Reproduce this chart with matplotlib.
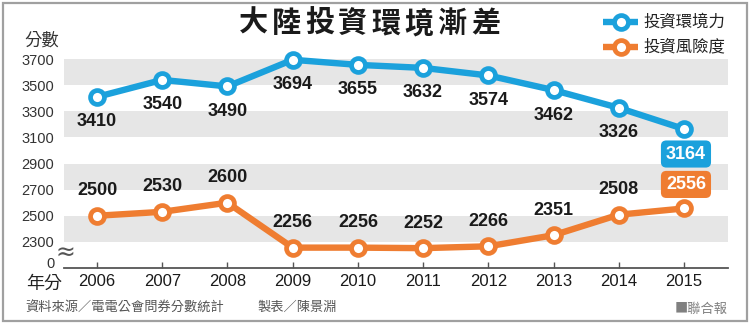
import matplotlib
matplotlib.use("Agg")
import matplotlib.pyplot as plt
from matplotlib.patches import Rectangle

plt.rcParams['font.family'] = ['Liberation Sans', 'Noto Sans CJK TC', 'DejaVu Sans']

# Data
years = [2006, 2007, 2008, 2009, 2010, 2011, 2012, 2013, 2014, 2015]
environment = [3410, 3540, 3490, 3694, 3655, 3632, 3574, 3462, 3326, 3164]
risk = [2500, 2530, 2600, 2256, 2256, 2252, 2266, 2351, 2508, 2556]
ytick_values = [2140, 2300, 2500, 2700, 2900, 3100, 3300, 3500, 3700]
ytick_labels = ['0', '2300', '2500', '2700', '2900', '3100', '3300', '3500', '3700']
bands = [(2300, 2500), (2700, 2900), (3100, 3300), (3500, 3700)]
series_names = ['投資環境力', '投資風險度']
title = '大陸投資環境漸差'

BLUE = '#1ba1dc'
ORANGE = '#ef7d31'
BAND = '#e6e6e6'

W, H = 750, 326
fig = plt.figure(figsize=(W / 100, H / 100), dpi=100)

# plot area in pixel units (left, top, right, bottom)
L, T, R, B = 64, 59, 728, 268
ax = fig.add_axes([L / W, (H - B) / H, (R - L) / W, (B - T) / H])
ax.patch.set_alpha(0)
ax.set_xlim(2005.494, 2015.675)
ax.set_ylim(2100, 3700)

for lo, hi in bands:
    ax.axhspan(lo, hi, color=BAND, lw=0, zorder=0)

line_kw = dict(lw=4.6, marker='o', ms=10, mfc='white', mew=3.4,
               clip_on=False, zorder=3, solid_capstyle='round')
ax.plot(years, environment, color=BLUE, mec=BLUE, **line_kw)
ax.plot(years, risk, color=ORANGE, mec=ORANGE, **line_kw)

lab_kw = dict(textcoords='offset pixels', ha='center', va='center',
              fontsize=13, fontweight='bold', color='#1a1a1a', zorder=4)
box_kw = dict(textcoords='offset pixels', ha='center', va='center',
              fontsize=13, fontweight='bold', color='white', zorder=4)
for i, (x, v) in enumerate(zip(years, environment)):
    if i == len(years) - 1:
        ax.annotate(f'{v}', (x, v), xytext=(2, -25), **box_kw,
                    bbox=dict(boxstyle='round,pad=0.28,rounding_size=0.3',
                              fc=BLUE, ec='none'))
    else:
        ax.annotate(f'{v}', (x, v), xytext=(0, -25), **lab_kw)
for i, (x, v) in enumerate(zip(years, risk)):
    if i == len(years) - 1:
        ax.annotate(f'{v}', (x, v), xytext=(2, 24), **box_kw,
                    bbox=dict(boxstyle='round,pad=0.28,rounding_size=0.3',
                              fc=ORANGE, ec='none'))
    else:
        ax.annotate(f'{v}', (x, v), xytext=(0, 25), **lab_kw)

ax.set_xticks(years)
ax.set_xticklabels([str(y) for y in years], fontsize=12, color='#1a1a1a')
ax.set_yticks(ytick_values)
ax.set_yticklabels(ytick_labels, fontsize=10.5, color='#333')
ax.tick_params(axis='x', direction='in', length=4, width=1, color='#555', pad=4)
ax.tick_params(axis='y', length=0, pad=7)
for s in ['top', 'right', 'left']:
    ax.spines[s].set_visible(False)
ax.spines['bottom'].set_color('#555')
ax.spines['bottom'].set_linewidth(1.3)

# overlay in pixel coordinates for titles, legend and notes
ov = fig.add_axes([0, 0, 1, 1])
ov.set_xlim(0, W)
ov.set_ylim(H, 0)
ov.axis('off')

ov.add_patch(Rectangle((3, 3), 744, 318, fill=False, ec='#a0a0a0', lw=1.6))

for i, ch in enumerate(title):
    ov.text(253 + i * 33.2, 24, ch, ha='center', va='center', fontsize=21,
            fontweight='bold', color='#1a1a1a')

for j, (name, c) in enumerate(zip(series_names, [BLUE, ORANGE])):
    y = 22 + j * 25
    ov.plot([603, 638], [y, y], color=c, lw=4.6, solid_capstyle='butt')
    ov.plot([621], [y], marker='o', ms=10, mfc='white', mec=c, mew=3.4)
    ov.text(643, y, name, ha='left', va='center', fontsize=11.8, color='#222')

ov.text(42, 40, '分數', ha='center', va='center', fontsize=12.5, color='#333')
ov.text(44, 284, '年分', ha='center', va='center', fontsize=13, color='#222')
ov.text(65, 253, '≈', ha='center', va='center', fontsize=17, color='#555',
        family='DejaVu Sans')

ov.text(25, 308, '資料來源／電電公會問券分數統計', ha='left', va='center',
        fontsize=9.5, color='#555')
ov.text(257, 308, '製表／陳景淵', ha='left', va='center', fontsize=9.5, color='#555')
ov.text(728, 309, '■聯合報', ha='right', va='center', fontsize=9.5, color='#808080',
        family=['Noto Sans CJK TC', 'DejaVu Sans'])

fig.savefig('out.png', dpi=100)
